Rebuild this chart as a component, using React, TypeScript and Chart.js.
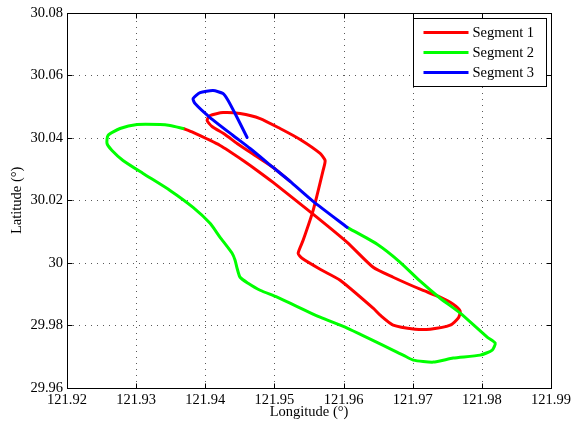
import React, { useEffect, useRef } from "react";
import { Chart, registerables } from "chart.js";

Chart.register(...registerables);

// ---- Data ----
const seriesNames = ["Segment 1", "Segment 2", "Segment 3"];
const seriesColors = ["#ff0000", "#00ff00", "#0000ff"];

const seg1Lon = [
  121.93679, 121.93823, 121.94214, 121.94547, 121.94749, 121.94981, 121.95545, 121.96052,
  121.96428, 121.96717, 121.97108, 121.97397, 121.97585, 121.97687, 121.97658, 121.97542,
  121.97253, 121.97036, 121.96717, 121.96529, 121.96428, 121.9595, 121.95661, 121.954,
  121.95343, 121.95415, 121.9556, 121.95704, 121.95733, 121.95661, 121.95372, 121.95082,
  121.94793, 121.94503, 121.94257, 121.94069, 121.94026, 121.94098, 121.94286, 121.9446,
  121.9472, 121.94981, 121.95227,
];
const seg1Lat = [
  30.04297, 30.0417, 30.03755, 30.03276, 30.02957, 30.02574, 30.01584, 30.00658,
  29.9986, 29.99541, 29.99158, 29.98903, 29.98679, 29.98456, 29.98232, 29.98009,
  29.97881, 29.97881, 29.98009, 29.98328, 29.98552, 29.99445, 29.99797, 30.00148,
  30.00307, 30.00722, 30.0168, 30.02957, 30.03276, 30.03499, 30.03946, 30.04297,
  30.04616, 30.04776, 30.04808, 30.04712, 30.04553, 30.04361, 30.04106, 30.03818,
  30.03435, 30.03052, 30.02606,
];

const seg2Lon = [
  121.93679, 121.9349, 121.93346, 121.93013, 121.92767, 121.92593, 121.92579, 121.92651,
  121.9281, 121.931, 121.9349, 121.93823, 121.94069, 121.94214, 121.94388, 121.94431,
  121.9446, 121.94503, 121.94619, 121.94793, 121.95039, 121.95661, 121.96052, 121.96862,
  121.97007, 121.97296, 121.97585, 121.97976, 121.9815, 121.98193, 121.98077, 121.97687,
  121.97397, 121.97108, 121.96819, 121.96486, 121.96052,
];
const seg2Lat = [
  30.04297, 30.04393, 30.04425, 30.04425, 30.04297, 30.04074, 30.03818, 30.03595,
  30.03276, 30.02861, 30.02318, 30.01776, 30.01265, 30.00818, 30.00307, 30.00084,
  29.99828, 29.99541, 29.9935, 29.99126, 29.98903, 29.98264, 29.97913, 29.97051,
  29.96892, 29.96828, 29.96956, 29.97051, 29.97211, 29.97434, 29.97626, 29.98392,
  29.98871, 29.99414, 30.0002, 30.00595, 30.01137,
];

const seg3Lon = [
  121.96052, 121.9556, 121.95227, 121.94981, 121.94648, 121.94402, 121.94069, 121.93852,
  121.93823, 121.93925, 121.94113, 121.94257, 121.9433, 121.9446, 121.94605,
];
const seg3Lat = [
  30.01137, 30.01967, 30.02606, 30.03052, 30.03659, 30.04074, 30.04648, 30.05095,
  30.05255, 30.05446, 30.0551, 30.05414, 30.05191, 30.04648, 30.0401,
];

const xTicks = [121.92, 121.93, 121.94, 121.95, 121.96, 121.97, 121.98, 121.99];
const yTicks = [29.96, 29.98, 30.0, 30.02, 30.04, 30.06, 30.08];
const xTitle = "Longitude (°)";
const yTitle = "Latitude (°)";

const FONT = '"Liberation Serif", "Times New Roman", serif';
const FS = 14.5;

const fmt = (v: number) => String(Number(Number(v).toFixed(2)));

const toPts = (xs: number[], ys: number[]) => xs.map((x, i) => ({ x, y: ys[i] }));

const decorPlugin = {
  id: "decor",
  beforeDatasetsDraw(chart: any) {
    const { ctx, chartArea: a, scales } = chart;
    ctx.save();
    ctx.strokeStyle = "rgba(0,0,0,0.65)";
    ctx.lineWidth = 1;
    ctx.setLineDash([1, 5]);
    ctx.beginPath();
    for (const v of xTicks) {
      const px = Math.round(scales.x.getPixelForValue(v)) + 0.5;
      ctx.moveTo(px, a.bottom);
      ctx.lineTo(px, a.top);
    }
    for (const v of yTicks) {
      const py = Math.round(scales.y.getPixelForValue(v)) + 0.5;
      ctx.moveTo(a.left, py);
      ctx.lineTo(a.right, py);
    }
    ctx.stroke();
    ctx.restore();
  },
  afterDraw(chart: any) {
    const { ctx, chartArea: a, scales } = chart;
    ctx.save();
    ctx.strokeStyle = "#000";
    ctx.lineWidth = 1;
    ctx.setLineDash([]);
    const L = Math.round(a.left) + 0.5;
    const R = Math.round(a.right) + 0.5;
    const T = Math.round(a.top) + 0.5;
    const B = Math.round(a.bottom) + 0.5;
    ctx.strokeRect(L, T, R - L, B - T);
    ctx.beginPath();
    for (const v of xTicks) {
      const px = Math.round(scales.x.getPixelForValue(v)) + 0.5;
      ctx.moveTo(px, B);
      ctx.lineTo(px, B - 5);
      ctx.moveTo(px, T);
      ctx.lineTo(px, T + 5);
    }
    for (const v of yTicks) {
      const py = Math.round(scales.y.getPixelForValue(v)) + 0.5;
      ctx.moveTo(L, py);
      ctx.lineTo(L + 5, py);
      ctx.moveTo(R, py);
      ctx.lineTo(R - 5, py);
    }
    ctx.stroke();

    // axis titles
    ctx.fillStyle = "#000";
    ctx.font = `${FS}px ${FONT}`;
    ctx.textAlign = "center";
    ctx.textBaseline = "middle";
    ctx.fillText(xTitle, (a.left + a.right) / 2, 412);
    ctx.save();
    ctx.translate(17, (a.top + a.bottom) / 2);
    ctx.rotate(-Math.PI / 2);
    ctx.fillText(yTitle, 0, 0);
    ctx.restore();

    // legend
    const lx = Math.round(a.right) - 138 + 0.5;
    const ly = Math.round(a.top) + 5 + 0.5;
    const lw = 133;
    const lh = 68;
    ctx.fillStyle = "#fff";
    ctx.fillRect(lx, ly, lw, lh);
    ctx.strokeStyle = "#000";
    ctx.lineWidth = 1;
    ctx.strokeRect(lx, ly, lw, lh);
    seriesNames.forEach((name, i) => {
      const y = ly + 14 + i * 20;
      ctx.strokeStyle = seriesColors[i];
      ctx.lineWidth = 3;
      ctx.beginPath();
      ctx.moveTo(lx + 10, y);
      ctx.lineTo(lx + 55, y);
      ctx.stroke();
      ctx.fillStyle = "#000";
      ctx.textAlign = "left";
      ctx.textBaseline = "middle";
      ctx.fillText(name, lx + 59, y + 1);
    });
    ctx.restore();
  },
};

export default function App() {
  const ref = useRef<HTMLCanvasElement | null>(null);

  useEffect(() => {
    document.body.style.margin = "0";
    if (!ref.current) return;
    const lons = [seg1Lon, seg2Lon, seg3Lon];
    const lats = [seg1Lat, seg2Lat, seg3Lat];
    const chart = new Chart(ref.current, {
      type: "line",
      data: {
        datasets: seriesNames.map((name, i) => ({
          label: name,
          data: toPts(lons[i], lats[i]),
          borderColor: seriesColors[i],
          backgroundColor: seriesColors[i],
          borderWidth: 3,
          pointRadius: 0,
          tension: 0.2,
          fill: false,
          order: 3 - i,
          borderCapStyle: "round",
          borderJoinStyle: "round",
        })),
      },
      options: {
        animation: false,
        responsive: false,
        maintainAspectRatio: false,
        parsing: false,
        layout: { padding: { top: 12, right: 23, left: 0, bottom: 0 } },
        plugins: { legend: { display: false }, tooltip: { enabled: false } },
        scales: {
          x: {
            type: "linear",
            min: 121.92,
            max: 121.99,
            afterBuildTicks: (s: any) => {
              s.ticks = xTicks.map((v) => ({ value: v }));
            },
            afterFit: (s: any) => {
              s.height = 39;
            },
            grid: { display: false, drawTicks: false },
            border: { display: false },
            ticks: {
              padding: 3,
              color: "#000",
              font: { family: FONT, size: FS },
              maxRotation: 0,
              autoSkip: false,
              callback: (v: any) => fmt(v),
            },
          },
          y: {
            type: "linear",
            min: 29.96,
            max: 30.08,
            afterBuildTicks: (s: any) => {
              s.ticks = yTicks.map((v) => ({ value: v }));
            },
            afterFit: (s: any) => {
              s.width = 67;
            },
            grid: { display: false, drawTicks: false },
            border: { display: false },
            ticks: {
              padding: 4,
              color: "#000",
              font: { family: FONT, size: FS },
              autoSkip: false,
              callback: (v: any) => fmt(v),
            },
          },
        },
      },
      plugins: [decorPlugin],
    } as any);
    return () => chart.destroy();
  }, []);

  return (
    <div style={{ position: "absolute", left: 0, top: 0, width: 574, height: 427 }}>
      <canvas ref={ref} width={574} height={427} style={{ display: "block", width: 574, height: 427 }} />
    </div>
  );
}
